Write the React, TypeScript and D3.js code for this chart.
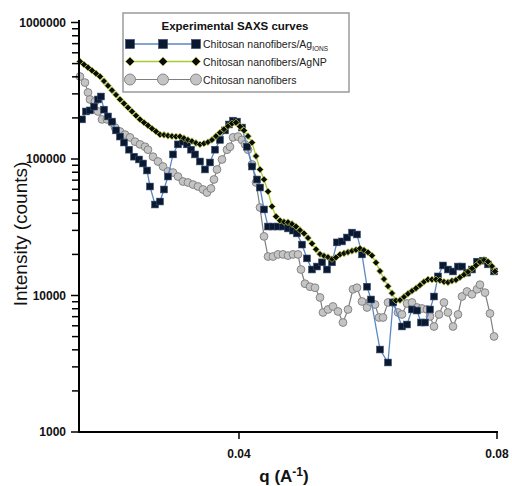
import React from 'react';
import * as d3 from 'd3';

// ---------- Data (q in Å^-1, intensity in counts) ----------
// Chitosan nanofibers/Ag IONS (blue line, black squares)
const agIonsQ = [0.01566,0.01628,0.01690,0.01752,0.01814,0.01860,0.01907,0.01969,0.02031,0.02093,0.02155,0.02217,0.02295,0.02372,0.02450,0.02512,0.02574,0.02620,0.02698,0.02775,0.02837,0.02899,0.02977,0.03054,0.03132,0.03194,0.03256,0.03318,0.03395,0.03473,0.03550,0.03628,0.03705,0.03783,0.03845,0.03907,0.03969,0.04047,0.04124,0.04202,0.04279,0.04326,0.04388,0.04450,0.04527,0.04605,0.04682,0.04760,0.04837,0.04899,0.04977,0.05054,0.05132,0.05209,0.05287,0.05364,0.05442,0.05519,0.05597,0.05674,0.05752,0.05829,0.05907,0.05985,0.06047,0.06186,0.06310,0.06388,0.06527,0.06605,0.06682,0.06760,0.06822,0.06884,0.06961,0.07023,0.07085,0.07163,0.07240,0.07318,0.07395,0.07457,0.07535,0.07612,0.07690,0.07783,0.07860,0.07954];
const agIonsI = [195000,223000,227000,242000,273000,287000,230000,205000,188000,162000,146000,132000,117000,104000,99200,92700,82400,62900,46400,48800,59800,74400,108000,128000,134000,128000,117000,108000,95900,83800,94300,117000,138000,162000,179000,191000,188000,170000,123000,88100,70800,61800,42700,32000,32000,32000,32000,31000,29900,28500,23600,18700,15500,16300,17500,15500,17500,24500,24900,26600,28900,28000,20000,11600,9350,4020,3230,8890,5930,6130,7900,7760,6340,6340,7900,9830,13800,16600,15500,15000,16300,16300,14700,15500,17700,18000,16900,15000];

// Chitosan nanofibers/AgNP (green line, black diamonds)
const agnpQ = [0.01535,0.01597,0.01659,0.01721,0.01783,0.01845,0.01907,0.01969,0.02031,0.02093,0.02155,0.02217,0.02279,0.02341,0.02403,0.02465,0.02527,0.02589,0.02651,0.02713,0.02775,0.02837,0.02899,0.02961,0.03023,0.03085,0.03147,0.03209,0.03271,0.03333,0.03395,0.03457,0.03519,0.03581,0.03643,0.03705,0.03767,0.03829,0.03891,0.03953,0.04015,0.04078,0.04140,0.04202,0.04264,0.04326,0.04388,0.04450,0.04512,0.04574,0.04636,0.04698,0.04760,0.04822,0.04884,0.04946,0.05008,0.05070,0.05132,0.05194,0.05256,0.05318,0.05380,0.05442,0.05504,0.05566,0.05628,0.05690,0.05752,0.05814,0.05876,0.05938,0.06000,0.06062,0.06124,0.06186,0.06248,0.06310,0.06372,0.06434,0.06496,0.06558,0.06620,0.06682,0.06744,0.06806,0.06868,0.06930,0.06992,0.07054,0.07116,0.07178,0.07240,0.07302,0.07364,0.07426,0.07488,0.07550,0.07612,0.07674,0.07736,0.07798,0.07860,0.07922,0.07969];
const agnpI = [518000,492000,468000,445000,423000,402000,372000,344000,319000,295000,273000,255000,238000,223000,208000,195000,185000,176000,167000,159000,151000,150000,148000,147000,146000,146000,142000,138000,135000,131000,128000,130000,133000,138000,147000,156000,165000,174000,182000,185000,173000,162000,147000,132000,105000,83800,70800,57800,44900,37900,35400,34600,34400,33400,32000,30100,28500,26400,24000,21800,20100,19500,19100,18500,19000,20000,20400,20800,21200,21600,22100,21500,20700,19600,17400,15100,13200,11700,10400,9180,9250,9770,10300,10800,11300,11900,12600,13100,13100,13100,12900,12600,12500,12800,13000,13600,14200,14900,15800,16600,17600,18200,17700,16400,15000];

// Chitosan nanofibers (gray line, gray circles)
const chitosanQ = [0.01535,0.01612,0.01659,0.01690,0.01767,0.01814,0.01876,0.01953,0.02031,0.02078,0.02155,0.02233,0.02310,0.02388,0.02465,0.02543,0.02589,0.02667,0.02744,0.02822,0.02899,0.02977,0.03054,0.03132,0.03209,0.03287,0.03364,0.03442,0.03504,0.03566,0.03612,0.03659,0.03736,0.03814,0.03860,0.03907,0.03984,0.04047,0.04093,0.04140,0.04202,0.04264,0.04326,0.04388,0.04450,0.04527,0.04605,0.04682,0.04760,0.04837,0.04915,0.04961,0.05023,0.05101,0.05178,0.05256,0.05302,0.05380,0.05457,0.05535,0.05612,0.05690,0.05767,0.05829,0.05907,0.05985,0.06031,0.06109,0.06171,0.06233,0.06310,0.06388,0.06465,0.06527,0.06605,0.06682,0.06760,0.06837,0.06915,0.06961,0.07023,0.07101,0.07178,0.07240,0.07318,0.07395,0.07457,0.07535,0.07612,0.07690,0.07736,0.07814,0.07891,0.07954];
const chitosanI = [402000,363000,307000,273000,264000,223000,195000,195000,185000,170000,159000,151000,144000,134000,128000,123000,117000,104000,95900,88100,81000,79600,74400,68400,67300,65000,62900,59800,56800,60800,70800,83800,99200,117000,123000,144000,146000,138000,128000,117000,91200,67300,44100,27100,19300,19300,20000,20000,19600,20000,20000,15500,12200,11600,11400,9670,7510,7900,8310,7640,6340,7900,11100,11400,9040,8170,9040,8590,6900,6900,8890,8890,7510,7260,8740,8890,8170,8030,7900,7020,5930,7260,8890,7510,5930,7260,9830,10700,10200,11100,12000,10500,7380,5010];

const xTickValues = [0.04, 0.08];
const xTickLabels = ['0.04', '0.08'];
const yTickValues = [1000, 10000, 100000, 1000000];
const yTickLabels = ['1000', '10000', '100000', '1000000'];

const legendTitle = 'Experimental SAXS curves';
const legendLabels = ['Chitosan nanofibers/Ag', 'Chitosan nanofibers/AgNP', 'Chitosan nanofibers'];

// ---------- Layout ----------
const W = 512;
const H = 486;
const FONT = "'Liberation Sans', Arial, Helvetica, sans-serif";

const x = d3.scaleLinear().domain([0.01535, 0.08]).range([80, 497]);
const y = d3.scaleLog().domain([1000, 1000000]).range([432, 22.5]);

const BLUE_LINE = '#5b87c6';
const SQUARE_FILL = '#0b1930';
const GREEN_LINE = '#abcb36';
const DIAMOND_FILL = '#0c0c0c';
const DIAMOND_STROKE = '#bcd23c';
const GRAY_LINE = '#7f7f7f';
const CIRCLE_FILL = '#c4c4c4';
const CIRCLE_STROKE = '#7d7d7d';

type Pt = [number, number];
const zip = (a: number[], b: number[]): Pt[] => a.map((q, i) => [q, b[i]] as Pt);

const Square = ({ cx, cy, s = 6.8 }: { cx: number; cy: number; s?: number }) => (
  <rect x={cx - s / 2} y={cy - s / 2} width={s} height={s} fill={SQUARE_FILL} stroke="#31476b" strokeWidth={0.6} />
);
const Diamond = ({ cx, cy, r = 3.4 }: { cx: number; cy: number; r?: number }) => (
  <path d={`M${cx},${cy - r}L${cx + r},${cy}L${cx},${cy + r}L${cx - r},${cy}Z`} fill={DIAMOND_FILL} stroke={DIAMOND_STROKE} strokeWidth={0.7} />
);
const Circle = ({ cx, cy, r = 3.9 }: { cx: number; cy: number; r?: number }) => (
  <circle cx={cx} cy={cy} r={r} fill={CIRCLE_FILL} stroke={CIRCLE_STROKE} strokeWidth={0.9} />
);

export default function App() {
  const line = d3.line<Pt>().x((d) => x(d[0])).y((d) => y(d[1]));
  const blue = zip(agIonsQ, agIonsI);
  const green = zip(agnpQ, agnpI);
  const gray = zip(chitosanQ, chitosanI);

  const minorTicks: number[] = [];
  for (let dec = 1000; dec < 1000000; dec *= 10) {
    for (let m = 2; m <= 9; m++) minorTicks.push(dec * m);
  }

  const legendRows = [44, 61.5, 79.5];
  const sampleXs = [130, 163, 196];

  return (
    <svg width={W} height={H} style={{ position: 'absolute', left: 0, top: 0, background: '#fff' }} fontFamily={FONT}>
      <rect x={0} y={0} width={W} height={H} fill="#fff" />

      {/* Chitosan nanofibers */}
      <path d={line(gray) || ''} fill="none" stroke={GRAY_LINE} strokeWidth={1.2} />
      {gray.map((d, i) => (
        <Circle key={'g' + i} cx={x(d[0])} cy={y(d[1])} />
      ))}

      {/* Ag IONS */}
      <path d={line(blue) || ''} fill="none" stroke={BLUE_LINE} strokeWidth={1.3} />
      {blue.map((d, i) => (
        <Square key={'b' + i} cx={x(d[0])} cy={y(d[1])} />
      ))}

      {/* AgNP */}
      <path d={line(green) || ''} fill="none" stroke={GREEN_LINE} strokeWidth={1.3} />
      {green.map((d, i) => (
        <Diamond key={'n' + i} cx={x(d[0])} cy={y(d[1])} />
      ))}

      {/* Y axis */}
      <line x1={79} x2={79} y1={20} y2={433} stroke="#000" strokeWidth={2} />
      {yTickValues.map((v, i) => (
        <g key={'yt' + i}>
          <line x1={71} x2={79} y1={y(v)} y2={y(v)} stroke="#000" strokeWidth={1.5} />
          <text x={66} y={y(v) + 4} textAnchor="end" fontSize={12} fontWeight="bold" fill="#111">
            {yTickLabels[i]}
          </text>
        </g>
      ))}
      {minorTicks.map((v, i) => (
        <line key={'ym' + i} x1={72} x2={79} y1={y(v)} y2={y(v)} stroke="#000" strokeWidth={1.5} />
      ))}
      <text
        transform={`translate(27,234) rotate(-90)`}
        textAnchor="middle"
        fontSize={19}
        fill="#111"
      >
        Intensity (counts)
      </text>

      {/* X axis */}
      <line x1={78} x2={498} y1={432} y2={432} stroke="#000" strokeWidth={2} />
      {xTickValues.map((v, i) => (
        <g key={'xt' + i}>
          <line x1={x(v)} x2={x(v)} y1={432} y2={439} stroke="#000" strokeWidth={1.5} />
          <text x={x(v)} y={458} textAnchor="middle" fontSize={12} fontWeight="bold" fill="#111">
            {xTickLabels[i]}
          </text>
        </g>
      ))}
      <text x={284} y={482} textAnchor="middle" fontSize={17} fontWeight="bold" fill="#111">
        q (A<tspan dy={-6} fontSize={12}>-1</tspan>
        <tspan dy={6}>)</tspan>
      </text>

      {/* Legend */}
      <rect x={123} y={13} width={226} height={79} fill="#fff" stroke="#9a9a9a" strokeWidth={1.5} />
      <text x={235} y={30} textAnchor="middle" fontSize={11.5} fontWeight="bold" fill="#111">
        {legendTitle}
      </text>
      {/* row 1 */}
      <line x1={sampleXs[0]} x2={sampleXs[2]} y1={legendRows[0]} y2={legendRows[0]} stroke={BLUE_LINE} strokeWidth={1.3} />
      {sampleXs.map((sx, i) => (
        <Square key={'ls' + i} cx={sx} cy={legendRows[0]} s={9} />
      ))}
      <text x={203} y={legendRows[0] + 4} fontSize={10.5} fill="#222">
        {legendLabels[0]}
        <tspan dy={3} fontSize={6.5}>IONS</tspan>
      </text>
      {/* row 2 */}
      <line x1={sampleXs[0]} x2={sampleXs[2]} y1={legendRows[1]} y2={legendRows[1]} stroke={GREEN_LINE} strokeWidth={1.3} />
      {sampleXs.map((sx, i) => (
        <Diamond key={'ld' + i} cx={sx} cy={legendRows[1]} r={4.6} />
      ))}
      <text x={203} y={legendRows[1] + 4} fontSize={10.5} fill="#222">
        {legendLabels[1]}
      </text>
      {/* row 3 */}
      <line x1={sampleXs[0]} x2={sampleXs[2]} y1={legendRows[2]} y2={legendRows[2]} stroke={GRAY_LINE} strokeWidth={1.2} />
      {sampleXs.map((sx, i) => (
        <Circle key={'lc' + i} cx={sx} cy={legendRows[2]} r={5.5} />
      ))}
      <text x={203} y={legendRows[2] + 4} fontSize={10.5} fill="#222">
        {legendLabels[2]}
      </text>
    </svg>
  );
}
